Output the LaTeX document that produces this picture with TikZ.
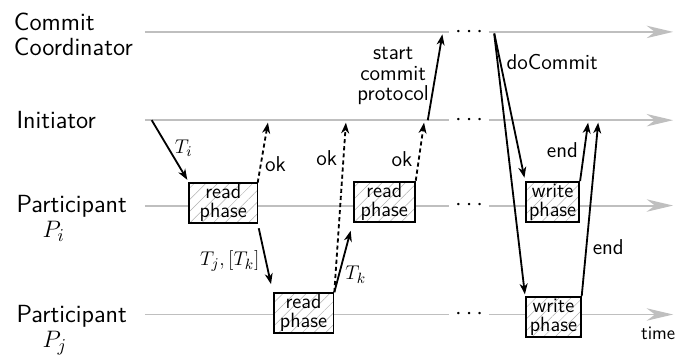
\documentclass[tikz,border=0pt]{standalone}
\usetikzlibrary{arrows.meta,patterns.meta}
\renewcommand{\familydefault}{\sfdefault}

\begin{document}
\begin{tikzpicture}[every node/.style={font=\fontsize{13}{12.2}\selectfont},
  actor/.style={anchor=north west, inner sep=0pt, align=left, font=\fontsize{15}{15}\selectfont},
  timeline/.style={draw=gray!50, line width=1.2pt},
  gap/.style={inner sep=0pt, minimum width=0.83cm, font=\fontsize{14.4}{14.3}\selectfont},
  phase/.style={draw, line width=1.1pt, minimum height=0.855cm, inner sep=0pt, align=center,
    preaction={fill=white}, pattern={Lines[angle=45,distance=5pt,line width=0.3pt]},
    pattern color=gray!60, font=\fontsize{12.5}{11.6}\selectfont},
  msg/.style={line width=1.1pt, -{Stealth[length=6.5pt,width=4.8pt,inset=2pt]}},
  ack/.style={msg, dash pattern=on 2.5pt off 1.8pt}]
\useasboundingbox (0,0) rectangle (14.39,7.53);

% processes
\node[actor] (cc) at (0.29,7.26) {Commit\\Coordinator};
\node[actor] (ini) at (0.345,5.166) {Initiator};
\node[actor] (pi) at (0.347,3.38) {Participant\\\hspace*{1.05em}$P_i$};
\node[actor] (pj) at (0.347,1.042) {Participant\\\hspace*{1.05em}$P_j$};

% time lines, interrupted by dots
\coordinate (cc0) at (3.08,6.852);   \coordinate (cc1) at (14.308,6.852);
\coordinate (ini0) at (3.08,4.975);  \coordinate (ini1) at (14.308,4.975);
\coordinate (pi0) at (3.08,3.161);   \coordinate (pi1) at (14.308,3.161);
\coordinate (pj0) at (3.08,0.845);   \coordinate (pj1) at (14.308,0.845);
\node[gap] (ccdots) at (9.971,6.852) {$\cdots$};
\node[gap] (inidots) at (9.971,4.975) {$\cdots$};
\node[gap] (pidots) at (9.971,3.161) {$\cdots$};
\node[gap] (pjdots) at (9.971,0.845) {$\cdots$};
\draw[timeline] (cc0) -- (ccdots);
\draw[timeline, -{Stealth[length=16pt,width=7.5pt,inset=5pt]}] (ccdots) -- (cc1);
\draw[timeline] (ini0) -- (inidots);
\draw[timeline, -{Stealth[length=16pt,width=7.5pt,inset=5pt]}] (inidots) -- (ini1);
\draw[timeline] (pi0) -- (pidots);
\draw[timeline, -{Stealth[length=16pt,width=7.5pt,inset=5pt]}] (pidots) -- (pi1);
\draw[timeline] (pj0) -- (pjdots);
\draw[timeline, -{Stealth[length=16pt,width=7.5pt,inset=5pt]}] (pjdots) -- (pj1);
\node[font=\fontsize{11.5}{13}\selectfont] (time) at (13.99,0.446) {time};

% phases
\node[phase, minimum width=1.45cm] (pri) at (4.747,3.215) {read\\phase};
\node[phase, minimum width=1.27cm] (prj) at (6.452,0.872) {read\\phase};
\node[phase, minimum width=1.30cm] (pri2) at (8.168,3.242) {read\\phase};
\node[phase, minimum width=1.13cm] (pwi) at (11.746,3.236) {write\\phase};
\node[phase, minimum width=1.165cm] (pwj) at (11.763,0.791) {write\\phase};

% messages
\coordinate (iniTi) at (3.225,4.975);
\coordinate (iniOk1) at (5.704,4.975);
\coordinate (iniOk2) at (7.356,4.975);
\coordinate (iniOk3) at (9.021,4.975);
\coordinate (iniStart) at (9.093,4.975);
\coordinate (ccStart) at (9.412,6.852);
\coordinate (ccCommit) at (10.50,6.852);
\coordinate (iniEnd1) at (12.507,4.975);
\coordinate (iniEnd2) at (12.720,4.975);
\draw[msg, shorten >=2pt] (iniTi) -- (pri.north west) node[pos=0.45, right] {$T_i$};
\draw[ack, shorten >=1.5pt] (pri.north east) -- (iniOk1) node[pos=0.3, right, inner sep=2pt] {ok};
\draw[msg, shorten <=3pt, shorten >=5pt] (pri.south east) -- (prj.north west) node[pos=0.55, left] {$T_j, [T_k]$};
\draw[ack, shorten >=1.5pt] (prj.north east) -- (iniOk2) node[pos=0.78, left] {ok};
\draw[msg, shorten >=5pt] (prj.north east) -- (pri2.south west) node[pos=0.25, right] {$T_k$};
\draw[ack, shorten >=1.5pt] (pri2.north east) -- (iniOk3) node[pos=0.36, left] {ok};
\draw[msg, shorten >=1.5pt] (iniStart) -- (ccStart) node[midway, left, align=center] {start\\commit\\protocol};
\draw[msg, shorten <=1pt, shorten >=2pt] (ccCommit) -- (pwi.north west) node[pos=0.2, right] {doCommit};
\draw[msg, shorten <=1pt, shorten >=1pt] (ccCommit) -- (pwj.north west);
\draw[msg, shorten >=1.5pt] (pwi.north east) -- (iniEnd1) node[midway, left] {end};
\draw[msg, shorten >=1.5pt] (pwj.north east) -- (iniEnd2) node[pos=0.28, right] {end};
\end{tikzpicture}
\end{document}
